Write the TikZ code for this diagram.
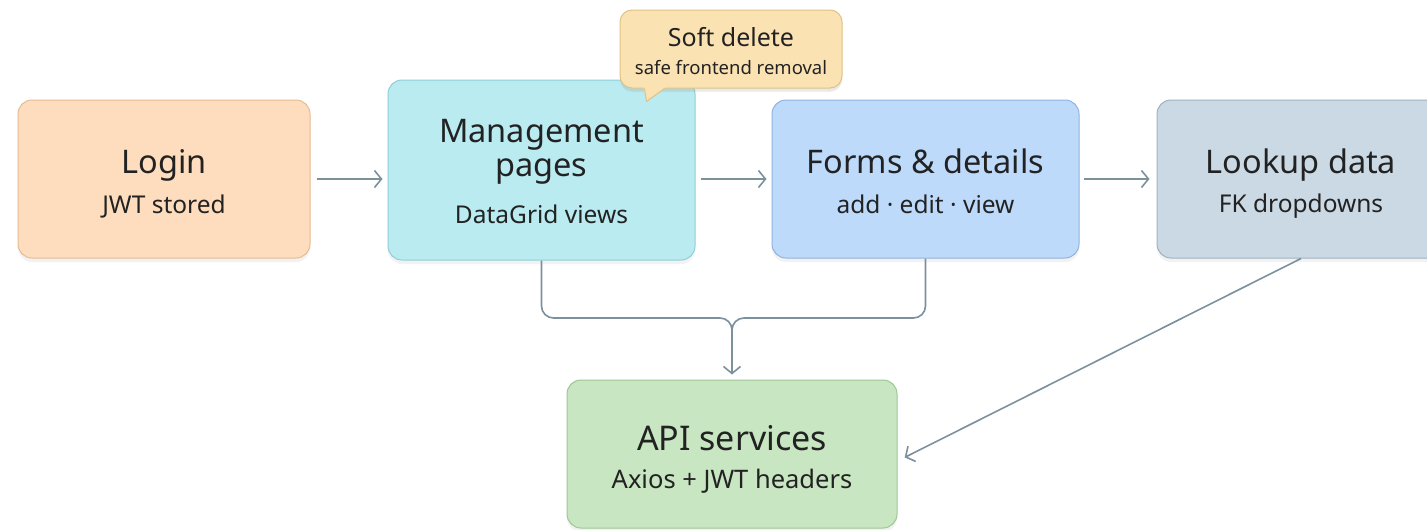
\documentclass[tikz,border=0pt]{standalone}
\usepackage{fontspec}
\setmainfont{Noto Sans}
\usetikzlibrary{arrows.meta,shadows,calc}

\definecolor{ink}{HTML}{222222}
\definecolor{wire}{HTML}{7D909D}
\definecolor{loginfill}{HTML}{FDDDBE}
\definecolor{loginline}{HTML}{E6BC92}
\definecolor{mgmtfill}{HTML}{B9EBF1}
\definecolor{mgmtline}{HTML}{8FCFD8}
\definecolor{formfill}{HTML}{BEDAFB}
\definecolor{formline}{HTML}{8FB3DE}
\definecolor{lookfill}{HTML}{CBD9E4}
\definecolor{lookline}{HTML}{A0B2C0}
\definecolor{apifill}{HTML}{C8E6C1}
\definecolor{apiline}{HTML}{9DC794}
\definecolor{notefill}{HTML}{FBE2B3}
\definecolor{noteline}{HTML}{E0C286}

\tikzset{
  card/.style={rounded corners=14pt, line width=1pt, inner sep=0pt,
    drop shadow={opacity=0.10, shadow xshift=0pt, shadow yshift=-4pt}},
  title/.style={anchor=base, text=ink, inner sep=0pt, font=\fontsize{32.5}{38}\selectfont},
  subtitle/.style={anchor=base, text=ink, inner sep=0pt, font=\fontsize{24.5}{29}\selectfont},
  conn/.style={draw=wire, line width=1.6pt, -{Straight Barb[length=7pt,width=17pt]}},
  plain/.style={draw=wire, line width=1.6pt},
}

\begin{document}
\begin{tikzpicture}[x=1pt,y=-1pt]
\useasboundingbox[fill=white] (0,0) rectangle (1427,530);

% main cards
\node[card, fill=loginfill, draw=loginline, minimum width=292pt, minimum height=158pt] (login) at (164,179) {};
\node[card, fill=mgmtfill, draw=mgmtline, minimum width=307pt, minimum height=180pt] (mgmt) at (541.5,170) {};
\node[card, fill=formfill, draw=formline, minimum width=307pt, minimum height=158pt] (forms) at (925.5,179) {};
\node[card, fill=lookfill, draw=lookline, minimum width=288pt, minimum height=158pt] (lookup) at (1301,179) {};
\node[card, fill=apifill, draw=apiline, minimum width=330pt, minimum height=148pt] (api) at (732,454) {};

% card texts
\node[title] (loginT) at (164,173) {Login};
\node[subtitle] (loginS) at (164,213) {JWT stored};
\node[title] (mgmtT1) at (541.5,142) {Management};
\node[title] (mgmtT2) at (541.5,176) {pages};
\node[subtitle] (mgmtS) at (541.5,223) {DataGrid views};
\node[title] (formsT) at (925.5,173) {Forms \& details};
\node[subtitle] (formsS) at (925.5,213) {add · edit · view};
\node[title] (lookupT) at (1301,173) {Lookup data};
\node[subtitle] (lookupS) at (1301,212) {FK dropdowns};
\node[title, font=\fontsize{34}{40}\selectfont] (apiT) at (732,450) {API services};
\node[subtitle, font=\fontsize{25.5}{30}\selectfont] (apiS) at (732,488) {Axios + JWT headers};

% speech-bubble note above the management card
\node[card, rounded corners=12pt, fill=notefill, draw=noteline, minimum width=222pt, minimum height=78pt,
      drop shadow={opacity=0.08, shadow xshift=0pt, shadow yshift=-3pt}] (note) at (731,49) {};
\fill[notefill] ($(note.south west)+(24,-1.5)$) -- ($(note.south west)+(27,13)$) -- ($(note.south west)+(46,-1.5)$) -- cycle;
\draw[noteline, line width=1pt, line join=round] ($(note.south west)+(25,0)$) -- ($(note.south west)+(27,13)$) -- ($(note.south west)+(45,0)$);
\node[anchor=base, text=ink, inner sep=0pt, font=\fontsize{25}{30}\selectfont] (noteT) at (731,46) {Soft delete};
\node[anchor=base, text=ink, inner sep=0pt, font=\fontsize{18.5}{22}\selectfont] (noteS) at (731,74) {safe frontend removal};

% flow along the top row
\draw[conn, shorten <=6pt, shorten >=5pt] (login.east) -- (login.east -| mgmt.west);
\draw[conn, shorten <=5pt, shorten >=5pt] (mgmt.east |- forms.west) -- (forms.west);
\draw[conn, shorten <=4pt, shorten >=7pt] (forms.east) -- (lookup.west);

% both pages merge into the API layer
\coordinate (join) at (732,318);
\draw[plain, rounded corners=12pt, shorten >=12pt] (forms.south) |- (join) -- (api.north);
\draw[conn, rounded corners=12pt, shorten >=5pt] (mgmt.south) |- (join) -- (api.north);

% lookup data also served by the API layer
\draw[conn, shorten >=8pt] (lookup.south) -- ([yshift=-7pt]api.east);
\end{tikzpicture}
\end{document}
